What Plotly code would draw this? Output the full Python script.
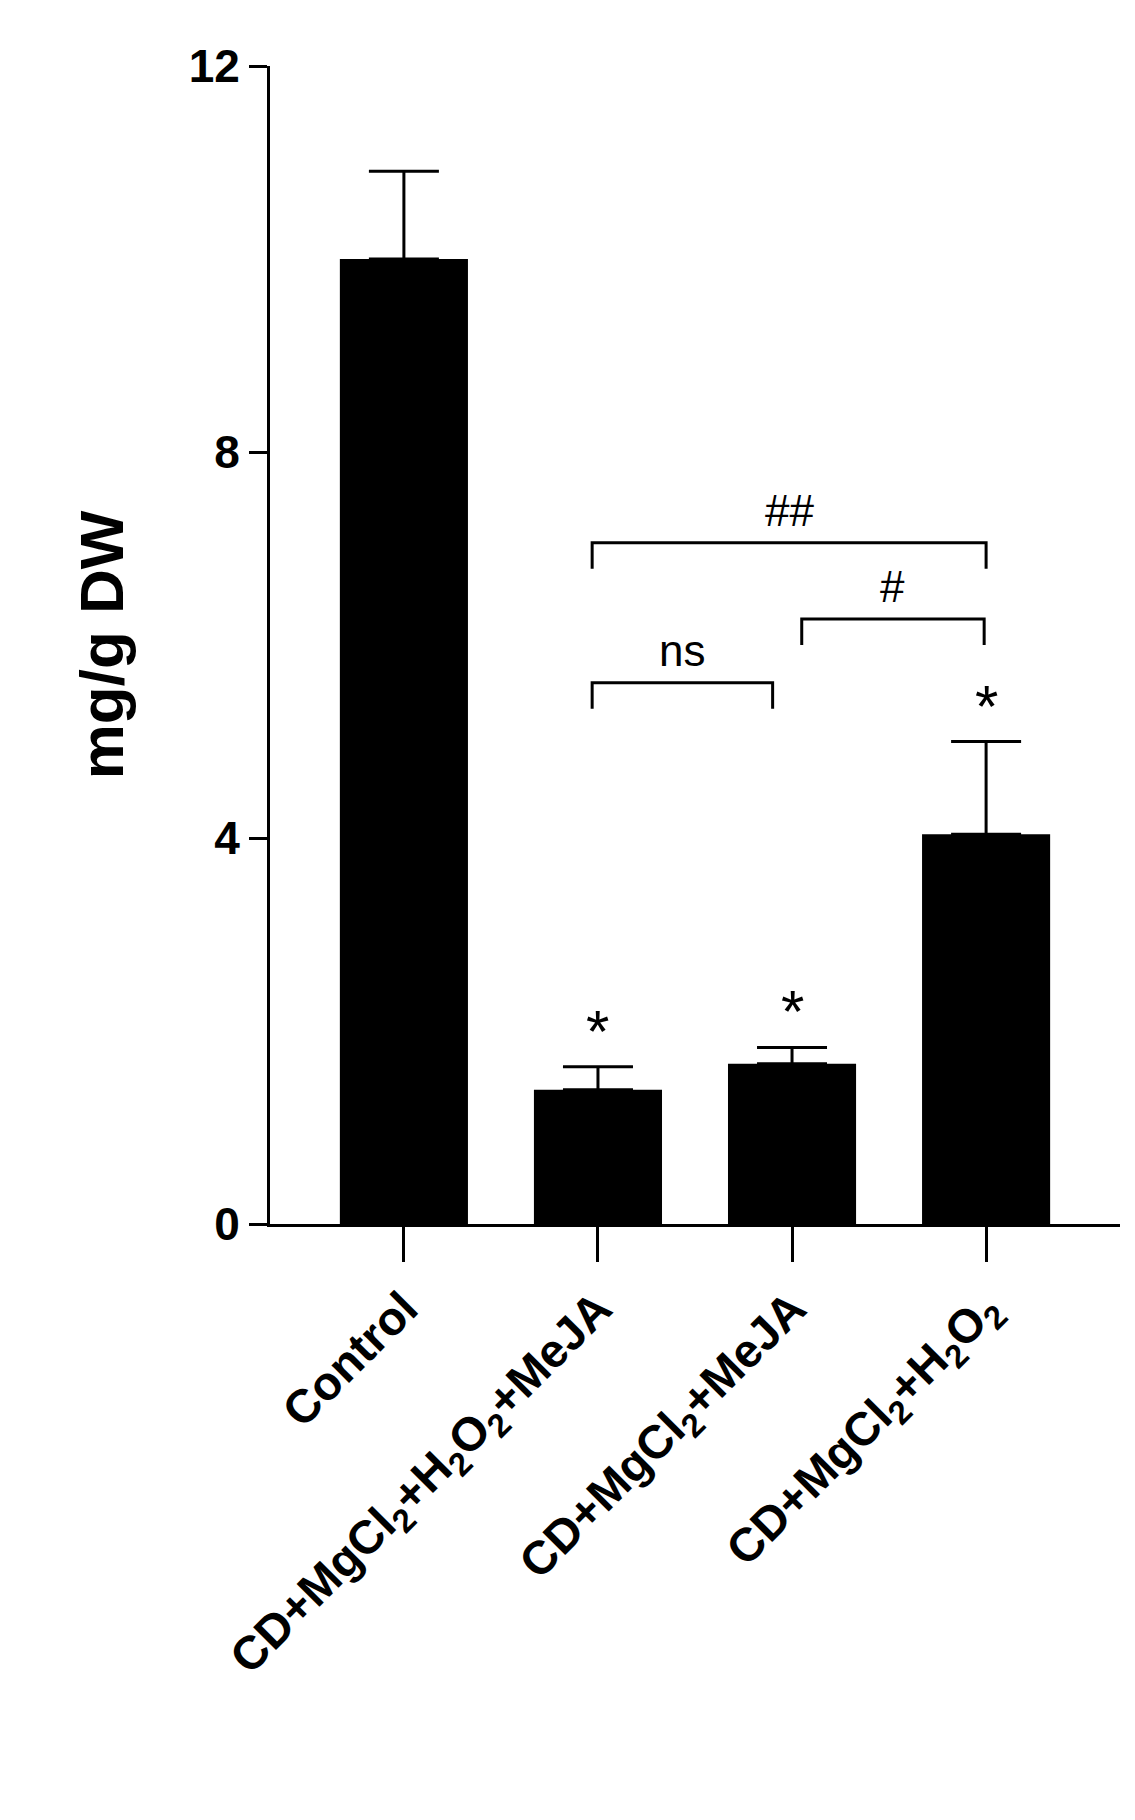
import plotly.graph_objects as go

categories = ["Control", "CD+MgCl<sub>2</sub>+H<sub>2</sub>O<sub>2</sub>+MeJA",
              "CD+MgCl<sub>2</sub>+MeJA", "CD+MgCl<sub>2</sub>+H<sub>2</sub>O<sub>2</sub>"]
values = [10.0, 1.39, 1.66, 4.04]
errors = [0.91, 0.24, 0.17, 0.96]
stars = ["", "*", "*", "*"]
# brackets: (start, end, height, label)
brackets = [(0.97, 3.0, 7.06, "##"), (2.05, 2.99, 6.27, "#"), (0.97, 1.9, 5.61, "ns")]
bracket_drop = 0.27

font = "Liberation Sans, Arial, sans-serif"
x = list(range(len(categories)))

fig = go.Figure()
fig.add_trace(go.Bar(
    x=x, y=values, width=0.66, marker=dict(color="black", line=dict(width=0)),
    error_y=dict(type="data", symmetric=False, array=errors, arrayminus=[0]*4,
                 color="black", thickness=3, width=35),
    showlegend=False))

for i, (v, e, s) in enumerate(zip(values, errors, stars)):
    if s:
        fig.add_annotation(x=i, y=v + e, text=s, showarrow=False, yanchor="bottom",
                           yshift=0, font=dict(family=font, size=60, color="black"))

for a, b, h, lab in brackets:
    fig.add_shape(type="path", xref="x", yref="y",
                  path=f"M {a} {h-bracket_drop} L {a} {h} L {b} {h} L {b} {h-bracket_drop}",
                  line=dict(color="black", width=3))
    fig.add_annotation(x=(a + b) / 2, y=h, text=lab, showarrow=False, yanchor="bottom",
                       yshift=6, font=dict(family=font, size=44, color="black"))

fig.update_layout(
    width=1135, height=1820, plot_bgcolor="white", paper_bgcolor="white",
    margin=dict(l=262, r=23, t=58, b=604),
    xaxis=dict(range=[-0.69, 3.69], tickmode="array", tickvals=x, ticktext=categories,
               tickangle=-45, ticks="outside", ticklen=35, tickwidth=3, tickcolor="black",
               showline=True, linecolor="black", linewidth=3, showgrid=False, zeroline=False,
               tickfont=dict(family=font, size=47, color="black", weight="bold")),
    yaxis=dict(range=[0, 12], tickvals=[0, 4, 8, 12], ticks="outside", ticklen=18,
               tickwidth=3, tickcolor="black", showline=True, linecolor="black",
               linewidth=3, showgrid=False, zeroline=False,
               tickfont=dict(family=font, size=46, color="black", weight="bold"),
               title=dict(text="mg/g DW", standoff=45,
                          font=dict(family=font, size=62, color="black", weight="bold"))),
)
fig.write_html("out.html")
